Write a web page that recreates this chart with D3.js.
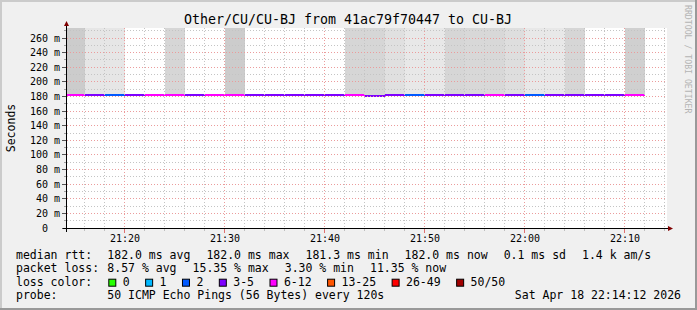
<!DOCTYPE html>
<html>
<head>
<meta charset="utf-8">
<script src="https://cdn.jsdelivr.net/npm/d3@7"></script>
<style>
  html, body { margin: 0; padding: 0; background: #f0f0f0; }
  svg { display: block; font-family: "DejaVu Sans Mono", monospace; }
  text { white-space: pre; }
</style>
</head>
<body>
<svg id="chart"></svg>
<script>
// Data: one entry per 2 minute step
const slotTimes = ["21:14","21:16","21:18","21:20","21:22","21:24","21:26","21:28","21:30","21:32",
                   "21:34","21:36","21:38","21:40","21:42","21:44","21:46","21:48","21:50","21:52",
                   "21:54","21:56","21:58","22:00","22:02","22:04","22:06","22:08","22:10"];
const medianRtt = [182.0,182.0,182.0,182.0,182.0,182.0,182.0,182.0,182.0,182.0,
                   182.0,182.0,182.0,182.0,182.0,181.3,182.0,182.0,182.0,182.0,
                   182.0,182.0,182.0,182.0,182.0,182.0,182.0,182.0,182.0];
// lost pings out of 50
const lostPings = [6.5,3.5,2.0,3.0,6.0,7.0,4.0,6.5,7.7,3.5,
                   3.0,4.5,3.0,3.5,7.0,4.0,3.5,1.65,3.0,4.0,
                   4.5,6.5,3.5,2.2,3.0,4.0,3.0,3.5,5.7];
// smoke grey level (null = no smoke)
const smokeGrey = [204,230,230,null,null,214,null,null,204,null,
                   null,null,null,null,214,214,224,232,232,214,
                   216,216,222,232,232,214,null,null,208];

const lossBuckets = [
  { label: "0",     max: 0,  color: "#26ff00" },
  { label: "1",     max: 1,  color: "#00b8ff" },
  { label: "2",     max: 2,  color: "#0059ff" },
  { label: "3-5",   max: 5,  color: "#7e00ff" },
  { label: "6-12",  max: 12, color: "#ff00ff" },
  { label: "13-25", max: 25, color: "#ff5500" },
  { label: "26-49", max: 49, color: "#ff0000" },
  { label: "50/50", max: 50, color: "#a10000" }
];

const rttStats  = ["182.0 ms avg", "182.0 ms max", "181.3 ms min", "182.0 ms now", "0.1 ms sd", "1.4 k am/s"];
const lossStats = ["8.57 % avg", "15.35 % max", "3.30 % min", "11.35 % now"];
const probeText = "50 ICMP Echo Pings (56 Bytes) every 120s";
const stampText = "Sat Apr 18 22:14:12 2026";
const titleText = "Other/CU/CU-BJ from 41ac79f70447 to CU-BJ";

// Layout
const width = 697, height = 310;
const pLeft = 67, pRight = 667, pTop = 28, pBottom = 228;
const yMax = 273.7;

const svg = d3.select("#chart").attr("width", width).attr("height", height);

const day = (hm, s = 0) => { const [h, m] = hm.split(":").map(Number); return new Date(2026, 3, 18, h, m, s); };
const x = d3.scaleTime().domain([day("21:14", 12), day("22:14", 12)]).range([pLeft - 0.5, pRight - 0.5]);
const y = d3.scaleLinear().domain([0, yMax]).range([pBottom, pTop]);
const crisp = v => Math.floor(v) + 0.5;

// frame
svg.append("rect").attr("width", width).attr("height", height).attr("fill", "#f0f0f0");
svg.append("rect").attr("x", 0).attr("y", 0).attr("width", width).attr("height", 2).attr("fill", "#cbcbcb");
svg.append("rect").attr("x", 0).attr("y", 0).attr("width", 2).attr("height", height).attr("fill", "#cbcbcb");
svg.append("rect").attr("x", 0).attr("y", height - 2).attr("width", width).attr("height", 2).attr("fill", "#999999");
svg.append("rect").attr("x", width - 2).attr("y", 0).attr("width", 2).attr("height", height).attr("fill", "#999999");

// canvas
svg.append("rect").attr("x", pLeft).attr("y", pTop).attr("width", pRight - pLeft).attr("height", pBottom - pTop).attr("fill", "#ffffff");
svg.append("clipPath").attr("id", "clip").append("rect")
  .attr("x", pLeft).attr("y", pTop).attr("width", pRight - pLeft).attr("height", pBottom - pTop);

const slots = slotTimes.map((t, i) => {
  const t0 = day(t);
  const t1 = new Date(t0.getTime() + 120000);
  return { t0, t1, median: medianRtt[i], lost: lostPings[i], grey: smokeGrey[i] };
});

const lossColor = l => lossBuckets.find(b => Math.round(l) <= b.max).color;

const plot = svg.append("g").attr("clip-path", "url(#clip)");

// smoke
plot.selectAll(".smoke")
  .data(slots.filter(d => d.grey !== null))
  .enter().append("rect")
  .attr("class", "smoke")
  .attr("x", d => Math.floor(x(d.t0)) + 1)
  .attr("width", d => Math.floor(x(d.t1)) - Math.floor(x(d.t0)))
  .attr("y", y(yMax))
  .attr("height", d => y(d.median) - y(yMax))
  .attr("fill", d => d3.rgb(d.grey, d.grey, d.grey))
  .attr("shape-rendering", "crispEdges");

// grid
const minorY = d3.range(0, yMax, 10);
const majorY = d3.range(0, yMax, 20);
const minorX = d3.timeMinute.every(2).range(x.domain()[0], x.domain()[1]);
const majorX = x.ticks(d3.timeMinute.every(10));

const grid = svg.append("g").attr("fill", "none").attr("stroke-dasharray", "1,2");
grid.selectAll(".hmin").data(minorY.filter(v => v % 20 !== 0)).enter().append("line")
  .attr("x1", pLeft).attr("x2", pRight).attr("y1", d => crisp(y(d))).attr("y2", d => crisp(y(d)))
  .attr("stroke", "#c4c4c4");
grid.selectAll(".vmin").data(minorX.filter(t => t.getMinutes() % 10 !== 0)).enter().append("line")
  .attr("y1", pTop).attr("y2", pBottom).attr("x1", d => crisp(x(d))).attr("x2", d => crisp(x(d)))
  .attr("stroke", "#c4c4c4");
grid.selectAll(".hmaj").data(majorY.filter(v => v > 0)).enter().append("line")
  .attr("x1", pLeft).attr("x2", pRight).attr("y1", d => crisp(y(d))).attr("y2", d => crisp(y(d)))
  .attr("stroke", "#eb9c9c");
grid.selectAll(".vmaj").data(majorX).enter().append("line")
  .attr("y1", pTop).attr("y2", pBottom).attr("x1", d => crisp(x(d))).attr("x2", d => crisp(x(d)))
  .attr("stroke", "#eb9c9c");

// median line coloured by loss
plot.selectAll(".median")
  .data(slots)
  .enter().append("rect")
  .attr("class", "median")
  .attr("x", d => Math.floor(x(d.t0)) + 1)
  .attr("width", d => Math.floor(x(d.t1)) - Math.floor(x(d.t0)))
  .attr("y", d => Math.round(y(d.median)) - 1)
  .attr("height", 2)
  .attr("fill", d => lossColor(d.lost))
  .attr("shape-rendering", "crispEdges");

// axes and ticks
const axes = svg.append("g").attr("shape-rendering", "crispEdges");
axes.selectAll(".ytmin").data(minorY).enter().append("line")
  .attr("x1", pLeft - 3).attr("x2", pLeft).attr("y1", d => crisp(y(d))).attr("y2", d => crisp(y(d)))
  .attr("stroke", "#a0a0a0");
axes.selectAll(".ytmaj").data(majorY).enter().append("line")
  .attr("x1", pLeft - 5).attr("x2", pLeft).attr("y1", d => crisp(y(d))).attr("y2", d => crisp(y(d)))
  .attr("stroke", "#555");
axes.selectAll(".xtmin").data(minorX).enter().append("line")
  .attr("y1", pBottom).attr("y2", pBottom + 3).attr("x1", d => crisp(x(d))).attr("x2", d => crisp(x(d)))
  .attr("stroke", "#c0c0c0");
axes.selectAll(".xtmaj").data(majorX).enter().append("line")
  .attr("y1", pBottom).attr("y2", pBottom + 5).attr("x1", d => crisp(x(d))).attr("x2", d => crisp(x(d)))
  .attr("stroke", "#e07070");
axes.append("line").attr("x1", pLeft - 4).attr("x2", pRight + 2).attr("y1", pBottom + 0.5).attr("y2", pBottom + 0.5).attr("stroke", "#000");
axes.append("line").attr("x1", pLeft - 0.5).attr("x2", pLeft - 0.5).attr("y1", pBottom + 4).attr("y2", pTop - 3).attr("stroke", "#000");
svg.append("path").attr("d", `M${pLeft - 3},${pTop - 2}L${pLeft - 0.5},${pTop - 7}L${pLeft + 2},${pTop - 2}Z`).attr("fill", "#7f0000");
svg.append("path").attr("d", `M${pRight + 1},${pBottom - 2}L${pRight + 6},${pBottom + 0.5}L${pRight + 1},${pBottom + 3}Z`).attr("fill", "#7f0000");

// tick labels
svg.selectAll(".ylab").data(majorY).enter().append("text")
  .attr("x", pLeft - 7).attr("y", d => crisp(y(d)) + 3.5)
  .attr("text-anchor", "end").attr("font-size", "10px")
  .text(d => d === 0 ? "0  " : `${d} m`);
const fmt = d3.timeFormat("%H:%M");
svg.selectAll(".xlab").data(majorX).enter().append("text")
  .attr("x", d => crisp(x(d)) + 0.5).attr("y", 241.5)
  .attr("text-anchor", "middle").attr("font-size", "10px")
  .text(fmt);

// title, vertical label, watermark
svg.append("text").attr("x", 348).attr("y", 23.5).attr("text-anchor", "middle")
  .attr("font-size", "13.3px").text(titleText);
svg.append("text").attr("transform", `translate(15,${(pTop + pBottom) / 2}) rotate(-90)`)
  .attr("text-anchor", "middle").attr("font-size", "11.5px").text("Seconds");
svg.append("text").attr("transform", "translate(685,5) rotate(90)")
  .attr("font-size", "8.2px").attr("fill", "#b4b4b4").text("RRDTOOL / TOBI OETIKER");

// legend
const legendFont = "11.5px";
const rowY = [258.5, 272.1, 285.7, 299.3];
const tabX = 107.3;
const legend = svg.append("g").attr("font-size", legendFont);

function flowRow(yy, label, items, gap) {
  legend.append("text").attr("x", 16).attr("y", yy).text(label);
  let cx = tabX;
  items.forEach(s => {
    const t = legend.append("text").attr("x", cx).attr("y", yy).text(s);
    cx += t.node().getComputedTextLength() + gap;
  });
}
flowRow(rowY[0], "median rtt:", rttStats, 16);
flowRow(rowY[1], "packet loss:", lossStats, 16);

legend.append("text").attr("x", 16).attr("y", rowY[2]).text("loss color:");
let lx = tabX;
lossBuckets.forEach(b => {
  legend.append("rect").attr("x", lx + 1.5).attr("y", rowY[2] - 6.5).attr("width", 7).attr("height", 7)
    .attr("fill", b.color).attr("stroke", "#000").attr("stroke-width", 1);
  const t = legend.append("text").attr("x", lx + 15.4).attr("y", rowY[2]).text(b.label);
  lx += 15.4 + t.node().getComputedTextLength() + 14.5;
});

legend.append("text").attr("x", 16).attr("y", rowY[3]).text("probe:");
legend.append("text").attr("x", tabX).attr("y", rowY[3]).text(probeText);
legend.append("text").attr("x", 681).attr("y", rowY[3]).attr("text-anchor", "end").text(stampText);
</script>
</body>
</html>
